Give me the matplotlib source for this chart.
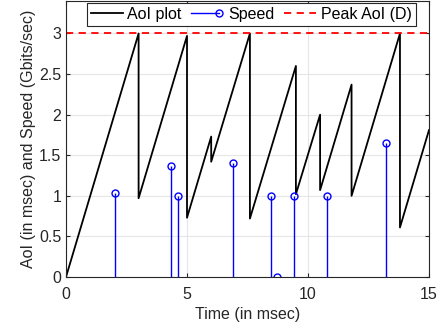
import matplotlib.pyplot as plt
from matplotlib.lines import Line2D
from matplotlib.legend_handler import HandlerLine2D

plt.rcParams['font.family'] = ['Liberation Sans', 'DejaVu Sans']

# AoI sawtooth (time in msec, AoI in msec)
aoi_t = [0, 3, 3, 5, 5, 6, 6, 7.6, 7.6, 9.5, 9.5, 10.5, 10.5, 11.8, 11.8, 13.8, 13.8, 15]
aoi_v = [0, 3, 0.97, 2.97, 0.73, 1.73, 1.42, 3.0, 0.72, 2.6, 1.02, 2.0, 1.07, 2.37, 1.0, 3.0, 0.61, 1.81]

# Speed stems
speed_t = [2.04, 4.32, 4.64, 6.9, 8.46, 8.72, 9.42, 10.79, 13.21]
speed_v = [1.04, 1.37, 1.0, 1.4, 1.0, 0.0, 1.0, 1.0, 1.65]

peak_aoi = 3.0


class HandlerStem(HandlerLine2D):
    # line with the marker sitting at its right end, like a MATLAB stem legend
    def create_artists(self, legend, orig_handle, xdescent, ydescent, width, height, fontsize, trans):
        arts = super().create_artists(legend, orig_handle, xdescent, ydescent, width, height, fontsize, trans)
        for a in arts:
            xd, yd = list(a.get_xdata()), list(a.get_ydata())
            a.set_data([xd[0], xd[-1] - 3], [yd[0], yd[-1]])
            a.set_markevery([1])
        return arts


fig = plt.figure(figsize=(4.42, 3.35), dpi=100)
ax = fig.add_axes([66/442, 58/335, 363/442, 276/335])

l1, = ax.plot(aoi_t, aoi_v, color='black', lw=1.3)
ml, sl, bl = ax.stem(speed_t, speed_v, linefmt='b-', markerfmt='bo', basefmt=' ')
plt.setp(sl, lw=1.0, color='#0000ff')
plt.setp(ml, markerfacecolor='none', markeredgecolor='#0000ff', markersize=5, markeredgewidth=1.0)
l3 = ax.axhline(peak_aoi, color='red', ls='--', lw=1.3, dashes=(4, 3))

ax.set_xlim(0, 15)
ax.set_ylim(0, 3.4)
ax.set_xticks([0, 5, 10, 15])
ax.set_yticks([0, 0.5, 1, 1.5, 2, 2.5, 3])
ax.set_yticklabels(['0', '0.5', '1', '1.5', '2', '2.5', '3'])
ax.grid(True, color='#e6e6e6', lw=0.8)
ax.set_axisbelow(True)
ax.tick_params(direction='in', top=True, right=True, length=3, labelsize=11.5, colors='#262626')
ax.tick_params(axis='x', pad=7)
for s in ax.spines.values():
    s.set_color('#262626')
    s.set_linewidth(0.8)

ax.set_xlabel('Time (in msec)', fontsize=11.5, color='#262626', labelpad=4)
ax.set_ylabel('AoI (in msec) and Speed (Gbits/sec)', fontsize=11.5, color='#262626', labelpad=2)

speed_h = Line2D([0], [0], color='#0000ff', lw=1.0, marker='o', markerfacecolor='none',
                 markersize=5, markeredgewidth=1.0)
leg = ax.legend([l1, speed_h, l3], ['AoI plot', 'Speed', 'Peak AoI (D)'],
                handler_map={speed_h: HandlerStem(numpoints=1)},
                loc='upper center', ncol=3, fontsize=11.5, frameon=True, fancybox=False,
                edgecolor='#262626', borderpad=0.25, borderaxespad=0.1, columnspacing=0.6,
                handlelength=2.0, handletextpad=0.3, bbox_to_anchor=(0.51, 1.0), framealpha=1)
leg.get_frame().set_linewidth(0.8)

fig.savefig('out.png', dpi=100)
